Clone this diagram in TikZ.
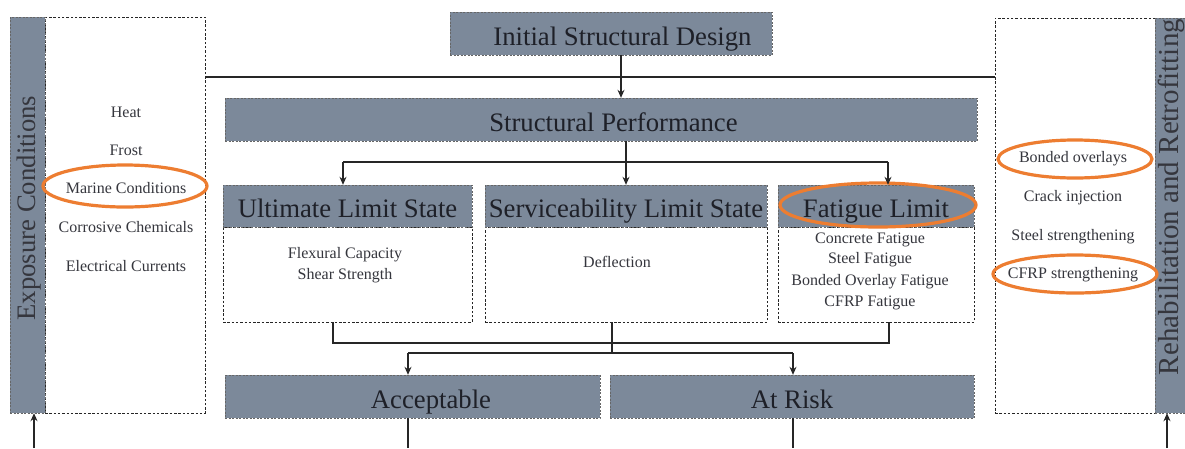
\documentclass[tikz,border=0pt]{standalone}
\usepackage{fontspec}
\setmainfont{Liberation Serif}
\usetikzlibrary{arrows.meta,shapes.geometric}
\definecolor{slate}{RGB}{124,137,154}
\definecolor{orng}{RGB}{237,125,49}
\definecolor{ink}{RGB}{30,32,40}
\tikzset{
  hdr/.style={draw=black!60, dash pattern=on 2pt off 1.5pt, fill=slate, inner sep=0pt, text=ink, text height=23pt, text depth=0pt, font=\fontsize{26.7}{30}\selectfont},
  wbox/.style={draw=black!85, dash pattern=on 2.5pt off 1.8pt, fill=white, inner sep=0pt},
  item/.style={text=ink!90, inner sep=0pt, font=\fontsize{16}{20}\selectfont},
  ring/.style={draw=orng, line width=3.2pt, ellipse, inner sep=0pt},
  conn/.style={draw=black!85, line width=1.1pt},
  arr/.style={conn, -{Stealth[length=8pt,width=7pt]}},
}
\begin{document}
\begin{tikzpicture}[x=1pt,y=-1pt]
\useasboundingbox (0,0) rectangle (1185,448);
\clip (0,0) rectangle (1185,448);
% left side
\node[wbox, minimum width=160, minimum height=396] (expbox) at (125,215) {};
\node[hdr, minimum width=35, minimum height=396] (expbar) at (27.5,215) {};
\node[item, rotate=90, font=\fontsize{26.7}{30}\selectfont] (exptxt) at (29,208) {Exposure Conditions};
\node[item] (heat) at (126,112) {Heat};
\node[item] (frost) at (126,150) {Frost};
\node[item] (marine) at (126,188) {Marine Conditions};
\node[item] (corr) at (126,227) {Corrosive Chemicals};
\node[item] (elec) at (126,266) {Electrical Currents};
\node[ring, minimum width=164, minimum height=42] (emar) at (125,186) {};
% right side
\node[wbox, minimum width=160, minimum height=395] (rbox) at (1075,215.5) {};
\node[hdr, minimum width=45, minimum height=395] (rbar) at (1177.5,215.5) {};
\node[item, rotate=90, font=\fontsize{29}{32}\selectfont] (rtxt) at (1171,197) {Rehabilitation and Retrofitting};
\node[item] (bond) at (1073,159) {Bonded overlays};
\node[item] (crack) at (1073,198) {Crack injection};
\node[item] (steel) at (1073,237) {Steel strengthening};
\node[item] (cfrp) at (1073,275) {CFRP strengthening};
\node[ring, minimum width=154, minimum height=38] (ebond) at (1075,159) {};
\node[ring, minimum width=164, minimum height=38] (ecfrp) at (1075,274) {};
% centre
\node[hdr, minimum width=322, minimum height=43] (isd) at (611,33.5) {\hspace*{23pt}Initial Structural Design};
\node[hdr, minimum width=752, minimum height=43] (sp) at (601,119.5) {\hspace*{25pt}Structural Performance};
\node[wbox, minimum width=249, minimum height=95] (ulsb) at (347.5,274.5) {};
\node[wbox, minimum width=282, minimum height=95] (slsb) at (626,274.5) {};
\node[wbox, minimum width=196, minimum height=95] (fatb) at (876,274.5) {};
\node[hdr, minimum width=249, minimum height=42] (uls) at (347.5,206) {Ultimate Limit State};
\node[hdr, minimum width=282, minimum height=42] (sls) at (626,206) {Serviceability Limit State};
\node[hdr, minimum width=196, minimum height=42] (fat) at (876,206) {Fatigue Limit};
\node[ring, minimum width=196, minimum height=44] (efat) at (878,205) {};
\node[item] (flex) at (345,255) {Flexural Capacity};
\node[item] (shear) at (345,276) {Shear Strength};
\node[item] (defl) at (617,262) {Deflection};
\node[item] (cf) at (870,240) {Concrete Fatigue};
\node[item] (sf) at (870,260) {Steel Fatigue};
\node[item] (bf) at (870,282) {Bonded Overlay Fatigue};
\node[item] (crf) at (870,303) {CFRP Fatigue};
\node[hdr, minimum width=375, minimum height=43] (acc) at (412.5,396.5) {\hspace*{37pt}Acceptable};
\node[hdr, minimum width=364, minimum height=43] (risk) at (792,396.5) {At Risk};
% connectors
\draw[conn] (expbox.east |- 0,77) -- (rbox.west |- 0,77);
\draw[arr] (isd.south -| 621,0) -- (sp.north -| 621,0);
\draw[conn] (sp.south -| 626,0) -- (626,162);
\draw[conn] (343,162) -- (888,162);
\draw[arr] (343,162) -- (uls.north -| 343,0);
\draw[arr] (626,162) -- (sls.north);
\draw[arr] (888,162) -- (fat.north -| 888,0);
\draw[conn] (ulsb.south -| 333,0) |- (889,343) -- (fatb.south -| 889,0);
\draw[conn] (slsb.south -| 612,0) -- (612,353);
\draw[conn] (408,353) -- (793,353);
\draw[arr] (408,353) -- (acc.north -| 408,0);
\draw[arr] (793,353) -- (risk.north -| 793,0);
\coordinate (accout) at (408,448);
\coordinate (riskout) at (793,448);
\draw[conn] (acc.south -| accout) -- (accout);
\draw[conn] (risk.south -| riskout) -- (riskout);
\coordinate (expin) at (34,448);
\coordinate (rin) at (1167,448);
\draw[arr] (expin) -- (expbar.south -| expin);
\draw[arr] (rin) -- (rbar.south -| rin);
\end{tikzpicture}
\end{document}
